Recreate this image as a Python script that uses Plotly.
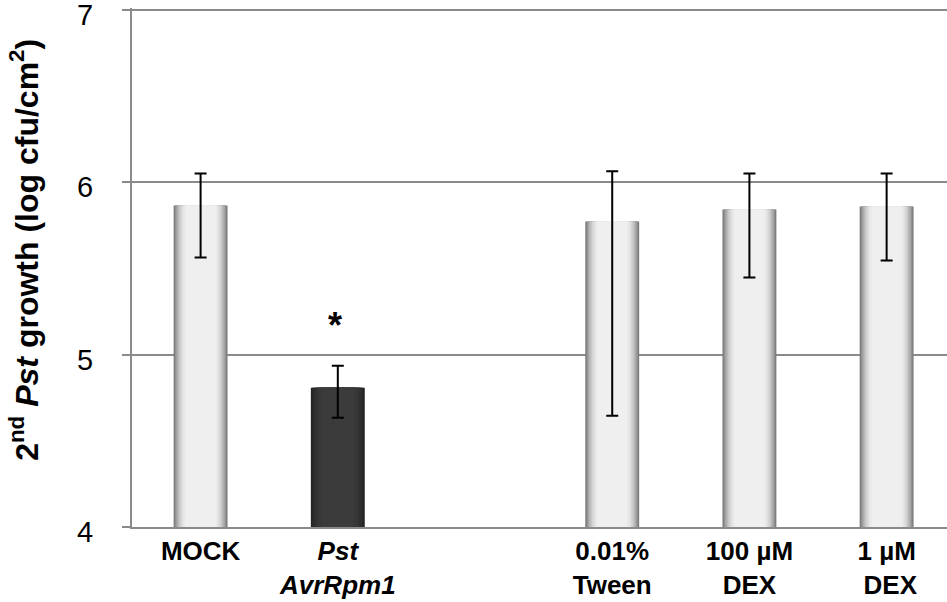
import plotly.graph_objects as go

# Treatment groups (slot 2 is left empty to separate the two sets)
slots = [0, 1, 3, 4, 5]
labels = [
    "<b>MOCK</b>",
    "<b><i>Pst</i></b><br><b><i>AvrRpm1</i></b>",
    "<b>0.01%</b><br><b>Tween</b>",
    "<b>100 µM</b><br><b>DEX</b>",
    "<b>1 µM</b><br><b> DEX</b>",
]
# Mean 2nd Pst growth (log cfu/cm2) and asymmetric error extents
growth = [5.866, 4.808, 5.773, 5.843, 5.860]
err_hi = [6.052, 4.936, 6.064, 6.052, 6.052]
err_lo = [5.564, 4.634, 4.645, 5.448, 5.547]
dark_group = [False, True, False, False, False]
y_ticks = [4, 5, 6, 7]
y_range = [4, 7.012]

FONT = "Liberation Sans, Arial, sans-serif"
GRID = "#8a8a8a"
BAR_W = 0.393

# Shading layers from the bar edge inwards (light bars and the dark bar)
light_ramp = ["#7c7c7c", "#929292", "#a7a7a7", "#b9b9b9", "#c8c8c8",
              "#d4d4d4", "#dedede", "#e6e6e6", "#ebebeb", "#efefef"]
dark_ramp = ["#242424", "#292929", "#2d2d2d", "#303030", "#333333",
             "#363636", "#383838", "#393939", "#3a3a3a", "#3b3b3b"]
n_layers = len(light_ramp)
fracs = [1.0 - 0.45 * i / (n_layers - 1) for i in range(n_layers)]

fig = go.Figure()
for i, frac in enumerate(fracs):
    last = i == n_layers - 1
    colors = [dark_ramp[i] if d else light_ramp[i] for d in dark_group]
    trace = dict(
        x=slots,
        y=growth,
        width=[BAR_W * frac] * len(slots),
        marker=dict(color=colors, line=dict(width=0)),
        showlegend=False,
        hoverinfo="skip" if not last else None,
    )
    if last:
        trace["error_y"] = dict(
            type="data",
            symmetric=False,
            array=[h - g for h, g in zip(err_hi, growth)],
            arrayminus=[g - l for g, l in zip(growth, err_lo)],
            color="black",
            thickness=2,
            width=6,
        )
    fig.add_trace(go.Bar(**trace))

# Y tick labels, set a little further out from the axis than the default
for v in y_ticks:
    fig.add_annotation(
        x=0, y=v, xref="paper", yref="y",
        xanchor="right", yanchor="middle", xshift=-37, yshift=-5,
        text=str(v), showarrow=False,
        font=dict(family=FONT, size=29, color="black"),
    )

# Significance marker above the AvrRpm1 bar
fig.add_annotation(
    x=slots[1], y=5.17, xref="x", yref="y", xshift=-3,
    text="<b>*</b>", showarrow=False,
    font=dict(family=FONT, size=36, color="black"),
    yanchor="middle",
)

# Y-axis title
fig.add_annotation(
    x=0, y=0.534, xref="paper", yref="paper",
    xanchor="center", yanchor="middle", xshift=-108,
    text="<b>2<sup>nd</sup> <i>Pst</i> growth (log cfu/cm<sup>2</sup>)</b>",
    textangle=-90, showarrow=False,
    font=dict(family=FONT, size=32, color="black"),
)

fig.update_layout(
    width=947, height=602,
    margin=dict(l=132, r=0, t=8, b=75, autoexpand=False),
    paper_bgcolor="white", plot_bgcolor="white",
    barmode="overlay",
    font=dict(family=FONT, color="black"),
    xaxis=dict(
        range=[-0.5, 5.44],
        tickvals=slots, ticktext=labels,
        tickfont=dict(family=FONT, size=26, color="black"),
        showgrid=False, zeroline=False, automargin=False,
        showline=True, linecolor=GRID, linewidth=2,
        ticks="",
    ),
    yaxis=dict(
        range=y_range,
        tickvals=y_ticks,
        showticklabels=False, automargin=False,
        showgrid=True, gridcolor=GRID, gridwidth=2,
        zeroline=False,
        showline=True, linecolor=GRID, linewidth=2,
        ticks="outside", ticklen=8, tickcolor=GRID, tickwidth=2,
    ),
)

fig.write_html("out.html")
